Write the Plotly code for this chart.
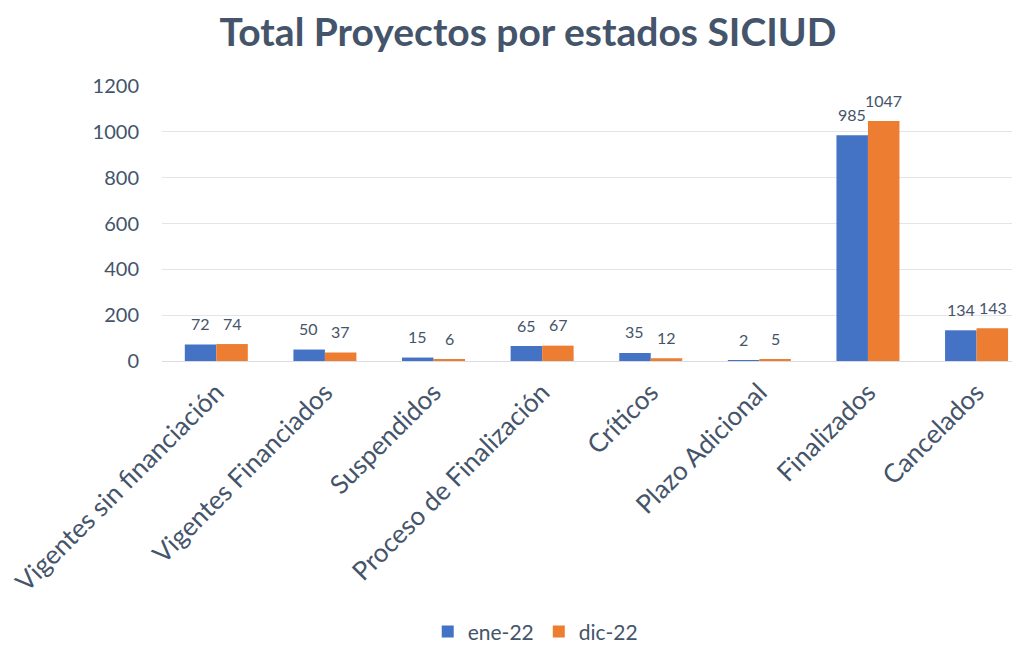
import plotly.graph_objects as go

categories = ["Vigentes sin financiación", "Vigentes Financiados", "Suspendidos",
              "Proceso de Finalización", "Críticos", "Plazo Adicional",
              "Finalizados", "Cancelados"]
ene_22 = [72, 50, 15, 65, 35, 2, 985, 134]
dic_22 = [74, 37, 6, 67, 12, 5, 1047, 143]
series_names = ["ene-22", "dic-22"]
y_ticks = [0, 200, 400, 600, 800, 1000, 1200]

TEXT = "#44546A"
FONT = "Lato"
BLUE = "#4472C4"
ORANGE = "#ED7D31"

W, H = 1012, 641

fig = go.Figure()
fig.add_trace(go.Bar(x=categories, y=ene_22, name=series_names[0],
                     marker=dict(color=BLUE, line=dict(width=0))))
fig.add_trace(go.Bar(x=categories, y=dic_22, name=series_names[1],
                     marker=dict(color=ORANGE, line=dict(width=0))))

annotations = []
for vals, shift in ((ene_22, -16), (dic_22, 16)):
    for c, v in zip(categories, vals):
        annotations.append(dict(x=c, y=v, xref="x", yref="y", text=str(v),
                                showarrow=False, xshift=shift, yshift=21,
                                yanchor="middle",
                                font=dict(family=FONT, size=16, color=TEXT)))

fig.update_layout(
    width=W, height=H,
    paper_bgcolor="white", plot_bgcolor="white",
    margin=dict(l=154, r=0, t=78, b=288, autoexpand=False),
    title=dict(text="<b>Total Proyectos por estados SICIUD</b>",
               font=dict(family=FONT, size=39, color=TEXT),
               x=520 / W, xanchor="center", y=1 - 24 / H, yanchor="middle",
               yref="container", xref="container"),
    barmode="group", bargap=0.42, bargroupgap=0,
    showlegend=True,
    legend=dict(orientation="h", x=0.435, xanchor="center", y=-0.985,
                yanchor="middle", font=dict(family=FONT, size=21, color=TEXT),
                itemwidth=30, traceorder="normal", tracegroupgap=0,
                borderwidth=0),
    annotations=annotations,
    font=dict(family=FONT, color=TEXT),
)
fig.update_xaxes(range=[-0.5, 7.4], tickangle=-45, showgrid=False,
                 showline=False, ticks="", automargin=False,
                 ticklabelstandoff=10,
                 tickfont=dict(family=FONT, size=26, color=TEXT))
fig.update_yaxes(range=[0, 1200], tickvals=y_ticks, showgrid=True,
                 gridcolor="#E1E4EA", gridwidth=1.3, zeroline=True,
                 zerolinecolor="#D9DDE3", zerolinewidth=1.3, showline=False,
                 ticks="", ticklabelstandoff=22, automargin=False,
                 tickfont=dict(family=FONT, size=20, color=TEXT))

fig.write_html("out.html")
